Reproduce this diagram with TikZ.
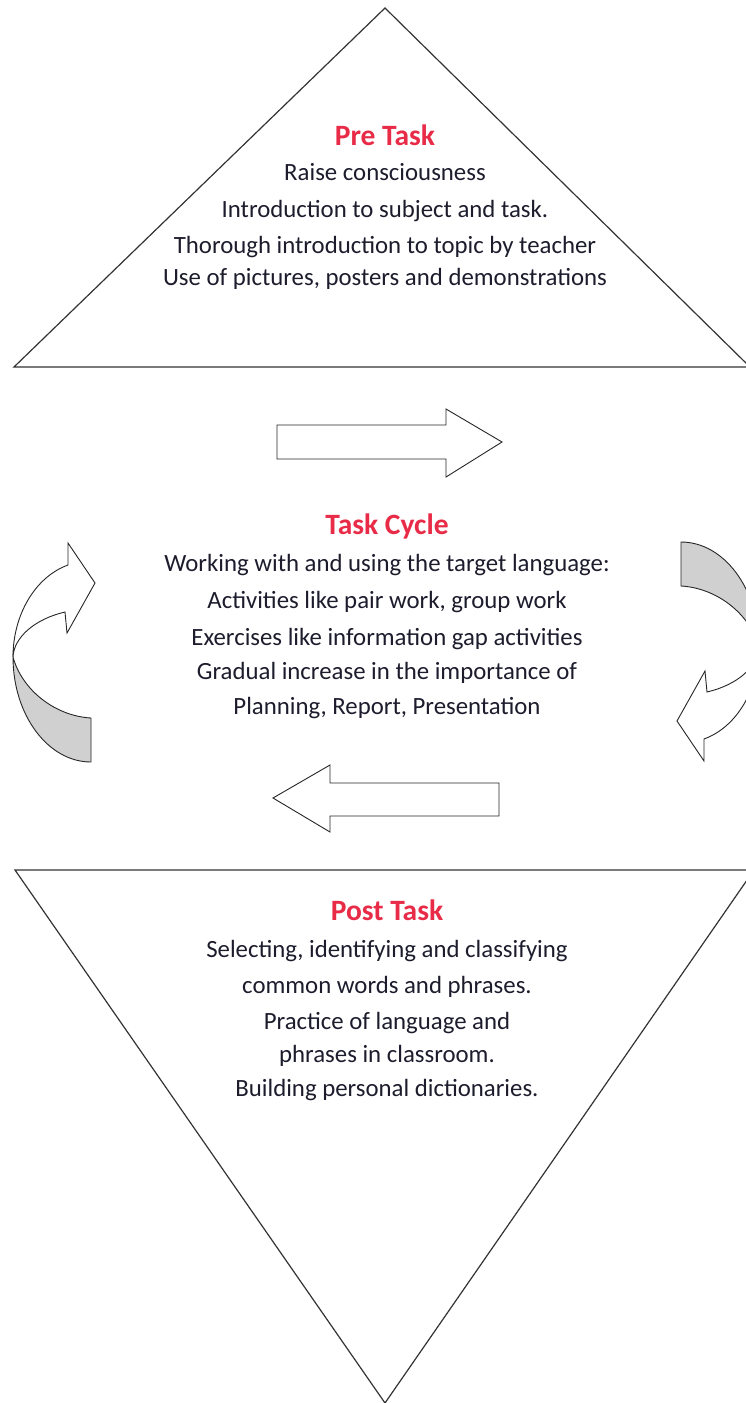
\documentclass[tikz,border=0pt]{standalone}
\usepackage{fontspec}
\setmainfont{Carlito}
\definecolor{headred}{RGB}{232,44,72}
\definecolor{inktext}{RGB}{28,28,45}
\definecolor{bandgray}{RGB}{208,208,208}
\tikzset{
	frame/.style={draw=black!80, line width=1.2pt, line join=miter},
	blockarrow/.style={draw=black!85, line width=0.9pt, fill=white, line join=miter},
	heading/.style={anchor=base, text=headred, font=\fontsize{29.5}{34}\selectfont\bfseries},
	entry/.style={anchor=base, text=inktext, font=\fontsize{24.8}{29}\selectfont},
}
% curved arrow, grey back band and white front with head
\newcommand{\bentarrow}{%
	\draw[blockarrow, fill=bandgray] (91,718) -- (91,762) .. controls (48,762) and (13,715) .. (13,657)
		.. controls (22,690) and (55,716) .. (91,718) -- cycle;
	\draw[blockarrow] (13,657) .. controls (13,615) and (35,577) .. (68,565) -- (68,543) -- (95,583)
		-- (67,633) -- (65,612) .. controls (35,619) and (14,637) .. (13,657) -- cycle;
}
\begin{document}
\begin{tikzpicture}[x=1pt,y=-1pt]
		\useasboundingbox (0,0) rectangle (746,1403);
		\clip (0,0) rectangle (746,1403);
		
		\draw[frame] (14,367) -- (385,8) -- (750,367) -- cycle;
		\draw[frame] (15,870) -- (754,870) -- (385,1403) -- cycle;
		
		\draw[blockarrow] (277,425) -- (446,425) -- (446,409) -- (502,442) -- (446,477) -- (446,459) -- (277,459) -- cycle;
		\draw[blockarrow] (499,783) -- (330,783) -- (330,765) -- (273,798) -- (330,832) -- (330,816) -- (499,816) -- cycle;
		
		\bentarrow
		\begin{scope}[rotate around={180:(386,652)}]
			\bentarrow
		\end{scope}
		
		\node[heading] (pretitle) at (385,145) {Pre Task};
		\node[entry] (pre1) at (385,180) {Raise consciousness};
		\node[entry] (pre2) at (385,217) {Introduction to subject and task.};
		\node[entry] (pre3) at (385,253) {Thorough introduction to topic by teacher};
		\node[entry] (pre4) at (385,285) {Use of pictures, posters and demonstrations};
		
		\node[heading] (cyctitle) at (387,534) {Task Cycle};
		\node[entry] (cyc1) at (387,571) {Working with and using the target language:};
		\node[entry] (cyc2) at (387,608) {Activities like pair work, group work};
		\node[entry] (cyc3) at (387,645) {Exercises like information gap activities};
		\node[entry] (cyc4) at (387,679) {Gradual increase in the importance of};
		\node[entry] (cyc5) at (387,714) {Planning, Report, Presentation};
		
		\node[heading] (posttitle) at (387,920) {Post Task};
		\node[entry] (post1) at (387,957) {Selecting, identifying and classifying};
		\node[entry] (post2) at (387,993) {common words and phrases.};
		\node[entry] (post3) at (387,1029) {Practice of language and};
		\node[entry] (post4) at (387,1062) {phrases in classroom.};
		\node[entry] (post5) at (387,1096) {Building personal dictionaries.};
	\end{tikzpicture}
\end{document}
